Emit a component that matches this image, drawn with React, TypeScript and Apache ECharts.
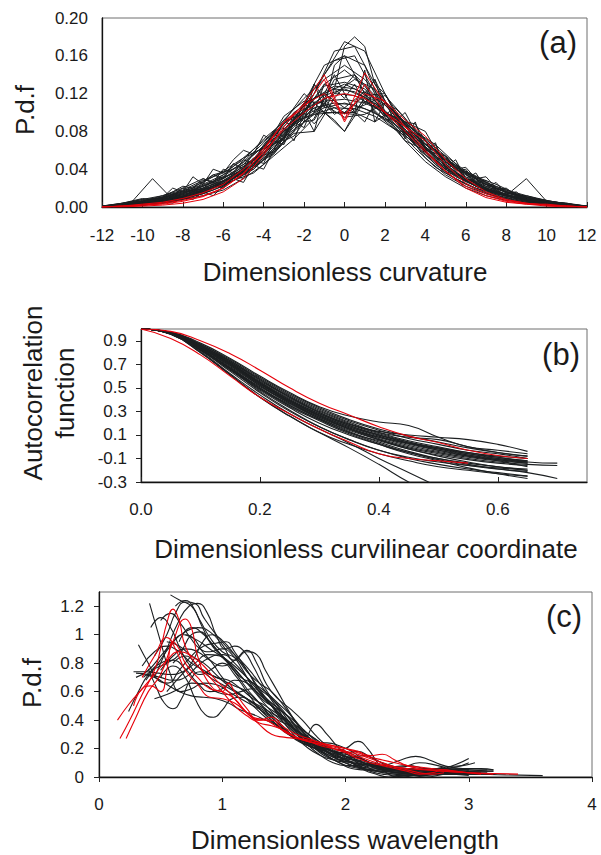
import React, { useEffect, useRef } from "react";
import * as echarts from "echarts";

// ---------- Panel (a): p.d.f of dimensionless curvature ----------
const xA = [-12, -11, -10, -9, -8, -7, -6, -5, -4, -3, -2, -1, 0, 1, 2, 3, 4, 5, 6, 7, 8, 9, 10, 11, 12];
const xAh = [-11.5, -10.5, -9.5, -8.5, -7.5, -6.5, -5.5, -4.5, -3.5, -2.5, -1.5, -0.5, 0.5, 1.5, 2.5, 3.5, 4.5, 5.5, 6.5, 7.5, 8.5, 9.5, 10.5, 11.5];
const xAf = [-12, -11, -10, -9, -8.5, -8, -7.5, -7, -6.5, -6, -5.5, -5, -4.5, -4, -3.5, -3, -2.5, -2, -1.5, -1, -0.5, 0, 0.5, 1, 1.5, 2, 2.5, 3, 3.5, 4, 4.5, 5, 5.5, 6, 6.5, 7, 7.5, 8, 8.5, 9, 10, 11, 12];
const blackA = [
  [0, .002, .004, .008, .013, .02, .028, .041, .06, .082, .102, .118, .125, .116, .1, .08, .058, .04, .027, .018, .012, .007, .004, .002, 0],
  [0, .001, .003, .006, .011, .017, .025, .037, .055, .078, .1, .13, .145, .128, .098, .076, .055, .036, .024, .016, .01, .006, .003, .001, 0],
  [.001, .003, .006, .009, .014, .022, .03, .045, .065, .085, .11, .12, .105, .122, .108, .085, .062, .044, .03, .02, .013, .008, .005, .003, .001],
  [0, .002, .005, .01, .016, .024, .034, .047, .064, .08, .094, .105, .11, .104, .094, .08, .066, .05, .035, .024, .016, .01, .006, .003, .001],
  [0, .001, .002, .005, .009, .014, .022, .034, .05, .074, .1, .14, .175, .165, .12, .08, .052, .034, .022, .014, .009, .005, .003, .001, 0],
  [0, .004, .009, .006, .01, .018, .026, .038, .056, .09, .12, .1, .1, .118, .12, .086, .056, .038, .028, .019, .012, .03, .006, .004, 0],
  [0, .001, .003, .007, .012, .018, .027, .04, .058, .08, .096, .108, .095, .098, .11, .09, .07, .05, .032, .02, .013, .008, .004, .002, 0],
  [0, .002, .004, .008, .014, .022, .032, .048, .068, .092, .115, .135, .15, .135, .11, .088, .064, .045, .03, .02, .012, .007, .004, .002, 0],
  [0, .001, .002, .004, .008, .012, .018, .03, .045, .068, .094, .12, .13, .12, .095, .07, .048, .032, .02, .012, .007, .004, .002, .001, 0],
  [.001, .003, .006, .01, .017, .026, .038, .052, .07, .088, .104, .112, .114, .11, .1, .088, .072, .054, .038, .026, .017, .01, .006, .003, .001],
  [0, .003, .008, .012, .018, .028, .036, .05, .072, .09, .1, .128, .132, .125, .1, .09, .07, .048, .036, .026, .018, .012, .007, .003, 0],
  [.001, .004, .006, .012, .02, .03, .022, .042, .06, .096, .112, .11, .1, .108, .118, .094, .062, .04, .03, .024, .015, .01, .005, .002, 0],
  [0, .002, .007, .01, .016, .02, .034, .052, .062, .072, .11, .15, .16, .15, .098, .07, .06, .054, .03, .02, .014, .012, .006, .004, .001],
  [0, .001, .004, .009, .015, .023, .032, .038, .064, .09, .108, .1, .08, .112, .1, .09, .08, .042, .03, .022, .013, .008, .005, .002, 0],
];
const blackAh = [
  [.001, .006, .03, .008, .014, .022, .032, .046, .066, .088, .108, .12, .118, .106, .088, .068, .048, .032, .022, .014, .009, .005, .003, .001],
  [.001, .003, .006, .01, .016, .024, .036, .05, .07, .094, .12, .165, .17, .13, .095, .07, .05, .034, .022, .014, .009, .005, .003, .001],
  [.002, .004, .006, .009, .013, .02, .028, .04, .06, .085, .105, .11, .108, .1, .085, .062, .042, .03, .02, .014, .01, .007, .004, .002],
  [0, .002, .004, .007, .012, .02, .03, .044, .06, .078, .08, .115, .14, .1, .082, .075, .058, .044, .03, .02, .012, .006, .003, .001],
  [.001, .002, .005, .009, .015, .022, .032, .042, .058, .08, .13, .1, .098, .135, .09, .068, .05, .034, .022, .015, .01, .006, .003, .001],
  [0, .001, .003, .006, .011, .018, .028, .042, .062, .09, .115, .128, .125, .112, .092, .066, .045, .03, .019, .011, .006, .003, .002, .001],
  [.002, .005, .008, .012, .018, .026, .036, .05, .066, .082, .098, .105, .104, .096, .082, .068, .054, .04, .028, .019, .013, .008, .005, .002],
  [0, .002, .004, .008, .013, .02, .03, .045, .067, .093, .125, .155, .16, .12, .1, .074, .052, .035, .023, .015, .009, .005, .003, .001],
  [.001, .003, .008, .014, .02, .034, .04, .05, .075, .1, .115, .125, .122, .11, .092, .07, .056, .04, .032, .024, .014, .008, .004, .002],
  [0, .002, .005, .01, .018, .02, .028, .036, .054, .072, .094, .135, .14, .118, .098, .08, .066, .046, .024, .016, .011, .006, .003, .001],
  [.001, .002, .004, .01, .012, .025, .03, .052, .058, .09, .098, .1, .1, .09, .105, .082, .06, .044, .026, .018, .008, .004, .002, .001],
  [0, .003, .006, .007, .016, .022, .034, .044, .064, .08, .1, .12, .135, .125, .1, .076, .058, .042, .033, .02, .012, .009, .005, .002],
];
const blackAf = [
  [0, .002, .004, .008, .014, .01, .018, .014, .024, .02, .034, .03, .05, .046, .07, .066, .09, .084, .11, .1, .125, .115, .13, .11, .12, .096, .1, .076, .082, .058, .066, .042, .05, .03, .036, .02, .026, .014, .016, .008, .004, .002, 0],
  [.001, .003, .006, .01, .016, .022, .02, .03, .026, .04, .036, .05, .046, .066, .078, .07, .1, .09, .13, .105, .15, .16, .14, .12, .135, .1, .092, .086, .07, .07, .052, .05, .038, .04, .026, .028, .018, .02, .012, .01, .005, .002, 0],
  [0, .001, .003, .006, .004, .01, .008, .016, .012, .022, .03, .026, .044, .04, .06, .084, .07, .1, .08, .12, .14, .12, .1, .145, .09, .11, .1, .072, .09, .06, .068, .04, .046, .028, .03, .018, .02, .01, .012, .006, .003, .001, 0],
  [0, .002, .005, .009, .012, .02, .016, .026, .034, .03, .046, .04, .058, .062, .08, .074, .094, .1, .088, .1, .092, .08, .1, .09, .11, .098, .09, .1, .08, .066, .06, .05, .044, .036, .03, .024, .02, .016, .012, .008, .005, .002, 0],
  [.001, .004, .008, .01, .02, .016, .032, .024, .04, .036, .05, .06, .056, .076, .07, .09, .086, .11, .1, .13, .125, .17, .18, .17, .13, .12, .1, .09, .088, .07, .06, .054, .04, .042, .03, .032, .02, .018, .014, .01, .005, .003, .001],
  [0, .001, .002, .004, .006, .008, .012, .014, .02, .024, .03, .036, .04, .05, .056, .07, .075, .09, .092, .11, .098, .105, .1, .115, .102, .092, .094, .08, .078, .064, .054, .046, .036, .03, .022, .018, .012, .01, .007, .005, .003, .001, 0],
];
const redA = [
  [0, 0, .001, .002, .004, .008, .016, .03, .055, .085, .11, .14, .092, .142, .11, .085, .06, .038, .02, .01, .005, .003, .003, .001, 0],
  [0, .001, .002, .004, .007, .012, .02, .035, .06, .09, .105, .135, .09, .13, .1, .085, .07, .045, .025, .014, .007, .004, .002, .001, 0],
  [0, .001, .002, .003, .006, .011, .02, .036, .058, .082, .1, .115, .12, .115, .1, .08, .058, .038, .022, .012, .006, .003, .001, 0, 0],
  [0, .001, .003, .005, .009, .015, .024, .04, .062, .09, .108, .12, .098, .12, .112, .092, .075, .05, .03, .016, .008, .004, .002, .001, 0],
];

// ---------- Panel (b): autocorrelation function ----------
const xB = [0, 0.05, 0.1, 0.15, 0.2, 0.25, 0.3, 0.35, 0.4, 0.45, 0.5, 0.55, 0.6, 0.65, 0.7];
const blackB = [
  [1, .975, .88, .75, .6, .46, .34, .26, .21, .18, .08, 0, -.03, -.06],
  [1, .97, .86, .72, .56, .42, .3, .2, .12, .08, .06, 0, -.05, -.08],
  [1, .97, .85, .7, .54, .4, .28, .18, .1, .03, -.02, -.06, -.09, -.12],
  [1, .965, .84, .69, .52, .38, .26, .16, .08, .01, -.04, -.08, -.11, -.13],
  [1, .96, .83, .67, .5, .36, .24, .14, .06, -.01, -.06, -.1, -.13, -.15, -.16],
  [1, .96, .82, .65, .48, .33, .2, .1, .02, -.05, -.1, -.14, -.17, -.2],
  [1, .96, .82, .64, .46, .3, .17, .06, -.03, -.1, -.15, -.19, -.22, -.25],
  [1, .955, .81, .62, .44, .28, .15, .03, -.1, -.22, -.34],
  [1, .955, .8, .61, .42, .26, .12, -.01, -.15, -.3, -.42],
  [1, .97, .86, .73, .58, .44, .32, .22, .14, .07, .02, -.03, -.06, -.1],
  [1, .965, .85, .71, .55, .41, .29, .19, .11, .04, -.02, -.07, -.11, -.14],
  [1, .96, .84, .68, .52, .37, .24, .13, .04, -.04, -.1, -.15, -.19, -.22, -.27],
  [1, .96, .83, .66, .49, .34, .22, .11, .02, -.06, -.12, -.18, -.23, -.27],
  [1, .97, .86, .72, .57, .43, .31, .21, .12, .05, 0, -.05, -.09, -.13],
  [1, .965, .85, .7, .53, .39, .27, .17, .09, .02, -.03, -.07, -.1, -.12],
  [1, .96, .83, .67, .51, .37, .25, .15, .07, 0, -.05, -.09, -.12, -.14],
  [1, .97, .87, .74, .59, .45, .33, .23, .15, .09, .04, -.01, -.05, -.08],
  [1, .96, .83, .66, .5, .35, .23, .12, .03, -.05, -.11, -.16, -.19, -.21],
  [1, .965, .84, .69, .53, .39, .26, .15, .06, -.02, -.07, -.11, -.14, -.16],
  [1, .97, .85, .71, .55, .4, .28, .18, .1, .03, -.03, -.08, -.12, -.17],
  [1, .97, .86, .71, .54, .38, .25, .15, .08, .03, -.01, -.05, -.08, -.1],
  [1, .965, .83, .66, .47, .31, .17, .06, -.03, -.09, -.13, -.16, -.18, -.2],
  [1, .975, .87, .73, .57, .42, .29, .19, .13, .1, .08, .06, .02, -.04],
  [1, .955, .8, .61, .42, .26, .12, .02, -.06, -.12, -.17, -.2, -.23, -.25],
  [1, .97, .85, .7, .54, .39, .27, .17, .1, .04, -.01, -.06, -.1, -.13, -.14],
  [1, .96, .83, .66, .49, .35, .23, .12, .05, -.02, -.08, -.13, -.17, -.19],
];
const redB = [
  [1, .98, .9, .79, .65, .5, .37, .27, .17, .09, .035, -.03, -.075, -.1],
  [1, .92, .78, .6, .42, .28, .15, .04, -.06, -.1, -.12, -.14],
];

// ---------- Panel (c): p.d.f of dimensionless wavelength ----------
const blackC = [
  [[0.45,0.85],[0.55,1.0],[0.62,1.15],[0.7,1.23],[0.78,1.22],[0.85,1.12],[0.95,1.0],[1.05,0.9],[1.15,0.82],[1.25,0.72],[1.35,0.6],[1.45,0.48],[1.55,0.36],[1.65,0.3],[1.75,0.24],[1.85,0.18],[1.95,0.12],[2.05,0.08],[2.15,0.06],[2.3,0.04],[2.5,0.03],[2.7,0.03],[2.9,0.02],[3.1,0.02]],
  [[0.58,1.28],[0.66,1.24],[0.75,1.2],[0.82,1.1],[0.9,0.98],[1.0,0.88],[1.1,0.84],[1.2,0.75],[1.3,0.6],[1.4,0.5],[1.5,0.42],[1.6,0.33],[1.7,0.25],[1.8,0.2],[1.9,0.16],[2.0,0.12],[2.1,0.1],[2.2,0.08],[2.35,0.07],[2.5,0.08],[2.65,0.06],[2.8,0.04],[3.0,0.04],[3.2,0.04]],
  [[0.41,1.22],[0.5,0.95],[0.58,0.72],[0.66,0.6],[0.75,0.62],[0.85,0.66],[0.95,0.65],[1.05,0.6],[1.15,0.55],[1.25,0.5],[1.35,0.45],[1.45,0.38],[1.55,0.3],[1.65,0.24],[1.75,0.2],[1.85,0.15],[1.95,0.1],[2.05,0.07],[2.2,0.05],[2.4,0.03],[2.6,0.02],[2.8,0.02],[3.0,0.01]],
  [[0.32,0.93],[0.4,0.8],[0.48,0.68],[0.56,0.66],[0.65,0.75],[0.75,0.85],[0.85,0.92],[0.95,0.94],[1.03,0.95],[1.1,0.88],[1.2,0.75],[1.3,0.62],[1.4,0.5],[1.5,0.38],[1.6,0.28],[1.7,0.2],[1.8,0.15],[1.9,0.12],[2.0,0.1],[2.1,0.07],[2.25,0.04],[2.4,0.02],[2.6,0.01],[2.8,0.02],[3.0,0.03]],
  [[0.28,0.74],[0.38,0.74],[0.48,0.73],[0.58,0.72],[0.68,0.74],[0.78,0.8],[0.88,0.86],[0.98,0.85],[1.08,0.78],[1.18,0.68],[1.28,0.6],[1.38,0.52],[1.48,0.42],[1.58,0.32],[1.68,0.25],[1.78,0.2],[1.88,0.17],[1.98,0.15],[2.08,0.12],[2.2,0.08],[2.35,0.05],[2.5,0.04],[2.7,0.03],[2.9,0.02],[3.1,0.02]],
  [[0.4,0.76],[0.47,0.62],[0.53,0.52],[0.6,0.48],[0.67,0.55],[0.74,0.68],[0.82,0.74],[0.9,0.72],[1.0,0.68],[1.1,0.64],[1.2,0.6],[1.3,0.52],[1.4,0.44],[1.5,0.35],[1.6,0.27],[1.7,0.22],[1.8,0.2],[1.9,0.18],[2.0,0.15],[2.1,0.1],[2.2,0.06],[2.3,0.03],[2.45,0.02],[2.6,0.02],[2.8,0.04],[2.95,0.06]],
  [[0.5,0.7],[0.6,0.78],[0.7,0.7],[0.78,0.55],[0.86,0.44],[0.93,0.42],[1.0,0.47],[1.08,0.55],[1.16,0.56],[1.25,0.5],[1.35,0.42],[1.45,0.36],[1.55,0.3],[1.65,0.26],[1.76,0.37],[1.85,0.3],[1.95,0.2],[2.05,0.14],[2.15,0.1],[2.25,0.06],[2.35,0.04],[2.5,0.03],[2.65,0.05],[2.8,0.06],[3.0,0.05]],
  [[0.3,0.7],[0.4,0.75],[0.5,0.85],[0.6,0.95],[0.7,1.02],[0.8,1.05],[0.9,1.02],[1.0,0.93],[1.1,0.82],[1.2,0.88],[1.28,0.86],[1.35,0.75],[1.45,0.6],[1.55,0.45],[1.65,0.32],[1.75,0.22],[1.85,0.15],[1.95,0.1],[2.05,0.06],[2.15,0.05],[2.3,0.04],[2.45,0.06],[2.6,0.05],[2.8,0.03],[3.0,0.03],[3.15,0.03]],
  [[0.45,0.7],[0.55,0.9],[0.65,1.1],[0.73,1.2],[0.8,1.22],[0.88,1.15],[0.95,1.0],[1.03,0.9],[1.1,0.92],[1.18,0.88],[1.25,0.78],[1.35,0.62],[1.45,0.5],[1.55,0.38],[1.65,0.27],[1.75,0.2],[1.85,0.14],[1.95,0.12],[2.05,0.14],[2.15,0.12],[2.25,0.08],[2.4,0.05],[2.55,0.03],[2.7,0.04],[2.85,0.05],[3.0,0.05]],
  [[0.35,0.72],[0.45,0.7],[0.55,0.65],[0.65,0.6],[0.75,0.57],[0.85,0.56],[0.95,0.55],[1.05,0.52],[1.15,0.47],[1.25,0.44],[1.35,0.4],[1.45,0.36],[1.55,0.3],[1.65,0.25],[1.75,0.22],[1.85,0.2],[1.95,0.16],[2.05,0.1],[2.15,0.05],[2.25,0.02],[2.35,0.0],[2.5,0.01],[2.65,0.03],[2.8,0.04],[2.95,0.04]],
  [[0.38,0.68],[0.48,0.8],[0.58,0.92],[0.68,1.0],[0.76,0.98],[0.84,0.88],[0.92,0.8],[1.0,0.7],[1.1,0.6],[1.2,0.55],[1.3,0.48],[1.4,0.4],[1.5,0.32],[1.6,0.27],[1.7,0.24],[1.8,0.21],[1.9,0.18],[2.0,0.17],[2.1,0.18],[2.2,0.14],[2.3,0.1],[2.45,0.07],[2.6,0.1],[2.75,0.08],[2.9,0.05],[3.05,0.06]],
  [[0.5,0.75],[0.6,0.85],[0.7,0.9],[0.8,0.88],[0.9,0.82],[1.0,0.78],[1.1,0.82],[1.2,0.89],[1.28,0.8],[1.36,0.65],[1.45,0.55],[1.55,0.48],[1.65,0.4],[1.75,0.3],[1.85,0.22],[1.95,0.17],[2.05,0.15],[2.15,0.12],[2.25,0.08],[2.35,0.05],[2.5,0.04],[2.65,0.06],[2.8,0.05],[3.0,0.04],[3.2,0.04]],
  [[0.6,0.8],[0.7,0.85],[0.8,0.78],[0.9,0.7],[1.0,0.65],[1.1,0.6],[1.2,0.55],[1.3,0.5],[1.4,0.45],[1.5,0.4],[1.6,0.33],[1.7,0.26],[1.8,0.2],[1.9,0.15],[2.0,0.12],[2.1,0.09],[2.2,0.07],[2.3,0.05],[2.45,0.04],[2.6,0.04],[2.75,0.05],[2.9,0.09],[3.0,0.13]],
  [[0.55,0.95],[0.65,0.92],[0.75,0.85],[0.85,0.8],[0.95,0.72],[1.05,0.64],[1.15,0.58],[1.25,0.52],[1.35,0.46],[1.45,0.4],[1.55,0.36],[1.65,0.3],[1.75,0.24],[1.85,0.18],[1.95,0.14],[2.05,0.12],[2.15,0.1],[2.25,0.08],[2.35,0.09],[2.45,0.12],[2.57,0.145],[2.68,0.12],[2.8,0.08],[2.95,0.06],[3.1,0.06],[3.2,0.05]],
  [[0.42,1.05],[0.5,1.12],[0.58,1.05],[0.66,0.9],[0.74,0.78],[0.82,0.72],[0.9,0.75],[1.0,0.8],[1.1,0.72],[1.2,0.6],[1.3,0.48],[1.4,0.4],[1.5,0.33],[1.6,0.26],[1.7,0.22],[1.8,0.19],[1.9,0.18],[2.0,0.2],[2.1,0.25],[2.18,0.2],[2.26,0.1],[2.35,0.02],[2.45,0.0],[2.6,0.02],[2.75,0.05],[2.9,0.07],[3.0,0.1]],
  [[0.7,1.0],[0.8,0.96],[0.9,0.9],[1.0,0.84],[1.1,0.74],[1.2,0.62],[1.3,0.52],[1.4,0.42],[1.5,0.34],[1.6,0.28],[1.7,0.23],[1.8,0.18],[1.9,0.14],[2.0,0.11],[2.1,0.09],[2.2,0.08],[2.35,0.06],[2.5,0.05],[2.7,0.04],[2.9,0.03],[3.1,0.02],[3.3,0.015],[3.6,0.01]],
  [[0.24,0.46],[0.32,0.6],[0.4,0.72],[0.5,0.8],[0.6,0.82],[0.7,0.76],[0.8,0.66],[0.9,0.6],[1.0,0.62],[1.1,0.68],[1.2,0.66],[1.3,0.58],[1.4,0.5],[1.5,0.42],[1.6,0.36],[1.7,0.3],[1.8,0.24],[1.9,0.18],[2.0,0.12],[2.1,0.08],[2.2,0.06],[2.35,0.05],[2.5,0.06],[2.65,0.04],[2.8,0.03],[3.0,0.02]],
  [[0.36,0.7],[0.45,0.76],[0.55,0.8],[0.65,0.86],[0.75,1.0],[0.82,1.02],[0.9,0.95],[1.0,0.85],[1.1,0.76],[1.2,0.66],[1.3,0.56],[1.4,0.46],[1.5,0.38],[1.6,0.3],[1.7,0.22],[1.8,0.15],[1.9,0.1],[2.0,0.08],[2.1,0.08],[2.2,0.1],[2.3,0.08],[2.45,0.05],[2.6,0.03],[2.8,0.02],[3.0,0.02],[3.2,0.02]],
  [[0.3,0.73],[0.4,0.72],[0.5,0.7],[0.6,0.68],[0.7,0.7],[0.8,0.78],[0.9,0.84],[1.0,0.86],[1.1,0.8],[1.2,0.7],[1.3,0.6],[1.4,0.52],[1.5,0.45],[1.6,0.36],[1.7,0.28],[1.8,0.22],[1.9,0.18],[2.0,0.14],[2.1,0.11],[2.2,0.09],[2.35,0.07],[2.5,0.06],[2.7,0.05],[2.9,0.04],[3.1,0.03]],
  [[0.55,0.6],[0.65,0.7],[0.75,0.8],[0.85,0.96],[0.92,1.0],[1.0,0.96],[1.1,0.86],[1.2,0.74],[1.3,0.66],[1.4,0.6],[1.5,0.5],[1.6,0.38],[1.7,0.28],[1.8,0.22],[1.9,0.2],[2.0,0.18],[2.1,0.14],[2.2,0.1],[2.3,0.06],[2.4,0.03],[2.5,0.02],[2.65,0.04],[2.8,0.07],[2.95,0.08],[3.05,0.1]],
  [[0.45,0.55],[0.55,0.58],[0.65,0.62],[0.75,0.66],[0.85,0.65],[0.95,0.6],[1.05,0.58],[1.15,0.6],[1.25,0.62],[1.35,0.56],[1.45,0.46],[1.55,0.36],[1.65,0.28],[1.75,0.24],[1.85,0.24],[1.95,0.22],[2.05,0.18],[2.15,0.12],[2.25,0.07],[2.35,0.04],[2.5,0.03],[2.65,0.02],[2.8,0.03],[3.0,0.04],[3.15,0.05]],
  [[0.5,1.1],[0.58,1.15],[0.66,1.08],[0.74,0.98],[0.82,0.9],[0.9,0.88],[1.0,0.9],[1.08,0.86],[1.16,0.76],[1.24,0.64],[1.32,0.55],[1.4,0.5],[1.5,0.45],[1.6,0.38],[1.7,0.3],[1.8,0.24],[1.9,0.17],[2.0,0.12],[2.1,0.08],[2.2,0.04],[2.3,0.02],[2.45,0.01],[2.6,0.02],[2.8,0.03],[3.0,0.03]],
  [[0.62,1.2],[0.7,1.24],[0.76,1.2],[0.84,1.05],[0.92,0.92],[1.0,0.85],[1.1,0.78],[1.2,0.7],[1.3,0.62],[1.4,0.55],[1.5,0.46],[1.6,0.35],[1.7,0.26],[1.8,0.2],[1.9,0.15],[2.0,0.13],[2.1,0.12],[2.2,0.1],[2.3,0.07],[2.45,0.05],[2.6,0.05],[2.75,0.06],[2.9,0.05],[3.1,0.05],[3.2,0.05]],
  [[0.35,0.78],[0.45,0.88],[0.55,0.92],[0.65,0.88],[0.75,0.8],[0.85,0.75],[0.95,0.7],[1.05,0.68],[1.15,0.62],[1.25,0.55],[1.35,0.5],[1.45,0.44],[1.55,0.38],[1.65,0.3],[1.75,0.22],[1.85,0.16],[1.95,0.12],[2.05,0.1],[2.15,0.09],[2.3,0.06],[2.45,0.04],[2.6,0.03],[2.8,0.03],[3.0,0.02]],
  [[0.65,0.95],[0.75,1.05],[0.85,1.0],[0.95,0.9],[1.05,0.8],[1.15,0.7],[1.25,0.66],[1.35,0.6],[1.45,0.52],[1.55,0.44],[1.65,0.34],[1.75,0.26],[1.85,0.2],[1.95,0.16],[2.05,0.14],[2.15,0.15],[2.25,0.12],[2.35,0.07],[2.45,0.04],[2.55,0.01],[2.65,0.0],[2.8,0.02],[3.0,0.04]],
];
const redC = [
  [[0.15,0.4],[0.25,0.52],[0.35,0.62],[0.45,0.72],[0.55,0.82],[0.65,0.88],[0.75,0.85],[0.85,0.78],[0.95,0.68],[1.05,0.6],[1.15,0.5],[1.25,0.42],[1.35,0.4],[1.45,0.35],[1.55,0.3],[1.65,0.26],[1.75,0.24],[1.85,0.22],[1.95,0.2],[2.05,0.16],[2.15,0.13],[2.25,0.1],[2.35,0.08],[2.5,0.06],[2.65,0.05],[2.8,0.04],[3.0,0.03],[3.2,0.025],[3.4,0.02]],
  [[0.17,0.27],[0.25,0.4],[0.35,0.58],[0.45,0.75],[0.5,0.9],[0.55,1.08],[0.6,1.18],[0.65,1.1],[0.7,0.92],[0.8,0.78],[0.9,0.7],[1.0,0.6],[1.1,0.5],[1.2,0.43],[1.3,0.38],[1.4,0.36],[1.5,0.33],[1.6,0.28],[1.7,0.26],[1.8,0.24],[1.9,0.2],[2.0,0.17],[2.1,0.13],[2.2,0.1],[2.3,0.08],[2.4,0.06],[2.5,0.04],[2.6,0.02],[2.7,0.03],[2.8,0.05],[2.9,0.04],[3.0,0.03],[3.1,0.02]],
  [[0.22,0.27],[0.3,0.42],[0.4,0.6],[0.5,0.72],[0.6,0.95],[0.7,1.11],[0.75,1.05],[0.8,0.85],[0.9,0.65],[1.0,0.6],[1.05,0.66],[1.1,0.6],[1.2,0.48],[1.3,0.4],[1.4,0.42],[1.5,0.35],[1.6,0.3],[1.7,0.27],[1.8,0.24],[1.9,0.22],[2.0,0.2],[2.1,0.18],[2.2,0.15],[2.3,0.16],[2.4,0.12],[2.5,0.08],[2.6,0.06],[2.7,0.05],[2.8,0.04],[3.0,0.03],[3.2,0.02]],
  [[0.35,0.7],[0.45,0.85],[0.55,0.98],[0.62,0.9],[0.7,0.75],[0.8,0.65],[0.9,0.56],[1.0,0.55],[1.1,0.52],[1.2,0.45],[1.3,0.37],[1.4,0.3],[1.5,0.28],[1.6,0.27],[1.7,0.25],[1.8,0.22],[1.9,0.2],[2.0,0.18],[2.1,0.16],[2.2,0.13],[2.3,0.1],[2.4,0.07],[2.5,0.05],[2.6,0.03],[2.7,0.02],[2.8,0.03]],
  [[0.28,0.5],[0.35,0.62],[0.42,0.64],[0.5,0.6],[0.55,0.75],[0.6,0.95],[0.65,0.9],[0.7,0.8],[0.8,0.7],[0.9,0.62],[1.0,0.6],[1.1,0.55],[1.2,0.45],[1.3,0.4],[1.4,0.4],[1.5,0.32],[1.6,0.28],[1.7,0.25],[1.8,0.23],[1.9,0.22],[2.0,0.2],[2.1,0.17],[2.2,0.14],[2.3,0.12],[2.4,0.1],[2.5,0.08],[2.6,0.07],[2.7,0.06],[2.8,0.05],[2.9,0.04],[3.0,0.03]],
];

// ---------- tick values ----------
const ticksAx = [-12, -10, -8, -6, -4, -2, 0, 2, 4, 6, 8, 10, 12];
const ticksAy = [0, 0.04, 0.08, 0.12, 0.16, 0.2];
const ticksBx = [0, 0.2, 0.4, 0.6];
const ticksBy = [-0.3, -0.1, 0.1, 0.3, 0.5, 0.7, 0.9];
const ticksCx = [0, 1, 2, 3, 4];
const ticksCy = [0, 0.2, 0.4, 0.6, 0.8, 1, 1.2];

const FONT = '"Liberation Sans", Arial, Helvetica, sans-serif';
const BLACK = "#1c1f21";
const RED = "#e6000a";
const TXT = "#1a1a1a";

function zipX(xs: number[], ys: number[]) {
  return ys.map((y, i) => [xs[i], y]);
}

function lineSeries(data: number[][], idx: number, color: string, smooth: boolean | number, z: number, width: number) {
  return {
    type: "line",
    xAxisIndex: idx,
    yAxisIndex: idx,
    data,
    smooth,
    symbol: "none",
    showSymbol: false,
    silent: true,
    z,
    lineStyle: { color, width },
  };
}

function xAx(idx: number, min: number, max: number, ticks: number[], inside: boolean, fmt: (v: number) => string, margin: number) {
  return {
    type: "value",
    gridIndex: idx,
    min,
    max,
    axisLine: { show: true, onZero: false, lineStyle: { color: "#111", width: 1.3 } },
    axisTick: { show: true, inside, length: 5, customValues: ticks, lineStyle: { color: "#222", width: 1 } },
    axisLabel: { customValues: ticks, formatter: fmt, margin, fontSize: 17, color: TXT, fontFamily: FONT },
    splitLine: { show: false },
  };
}

function yAx(idx: number, min: number, max: number, ticks: number[], showTick: boolean, fmt: (v: number) => string, margin: number) {
  return {
    type: "value",
    gridIndex: idx,
    min,
    max,
    axisLine: { show: true, onZero: false, lineStyle: { color: "#111", width: 1.3 } },
    axisTick: { show: showTick, inside: false, length: 5, customValues: ticks, lineStyle: { color: "#222", width: 1 } },
    axisLabel: { customValues: ticks, formatter: fmt, margin, fontSize: 17, color: TXT, fontFamily: FONT },
    splitLine: { show: false },
  };
}

function txt(text: string, x: number, y: number, size: number, rotation = 0, lineHeight?: number) {
  return {
    type: "text",
    x,
    y,
    rotation,
    silent: true,
    style: {
      text,
      fontSize: size,
      fontFamily: FONT,
      fill: TXT,
      align: "center",
      verticalAlign: "middle",
      lineHeight: lineHeight || size * 1.2,
    },
  };
}

export default function App() {
  const ref = useRef<HTMLDivElement>(null);
  useEffect(() => {
    if (!ref.current) return;
    const chart = echarts.init(ref.current, undefined, { renderer: "svg" });
    const series: any[] = [];
    blackA.forEach((ys) => series.push(lineSeries(zipX(xA, ys), 0, BLACK, false, 2, 1)));
    blackAh.forEach((ys) => series.push(lineSeries(zipX(xAh, ys), 0, BLACK, false, 2, 1)));
    blackAf.forEach((ys) => series.push(lineSeries(zipX(xAf, ys), 0, BLACK, false, 2, 1)));
    redA.forEach((ys) => series.push(lineSeries(zipX(xA, ys), 0, RED, false, 3, 1)));
    blackB.forEach((ys) => series.push(lineSeries(zipX(xB, ys), 1, BLACK, true, 2, 1.1)));
    redB.forEach((ys) => series.push(lineSeries(zipX(xB, ys), 1, RED, true, 3, 1.1)));
    blackC.forEach((d) => series.push(lineSeries(d, 2, BLACK, 0.5, 2, 1.1)));
    redC.forEach((d) => series.push(lineSeries(d, 2, RED, 0.5, 3, 1.1)));

    const border = { show: true, borderColor: "#6e6e6e", borderWidth: 1 };
    chart.setOption({
      animation: false,
      backgroundColor: "#ffffff",
      grid: [
        { left: 102, top: 18, width: 485, height: 189, ...border },
        { left: 141, top: 329, width: 446, height: 153, ...border },
        { left: 99, top: 592, width: 493, height: 185, ...border },
      ],
      xAxis: [
        xAx(0, -12, 12, ticksAx, true, (v) => String(v), 20),
        xAx(1, 0, 0.75, ticksBx, true, (v) => v.toFixed(1), 19),
        xAx(2, 0, 4, ticksCx, false, (v) => String(v), 19),
      ],
      yAxis: [
        yAx(0, 0, 0.2, ticksAy, false, (v) => v.toFixed(2), 14),
        yAx(1, -0.3, 1.0, ticksBy, true, (v) => v.toFixed(1), 14),
        yAx(2, 0, 1.3, ticksCy, true, (v) => String(+v.toFixed(1)), 15),
      ],
      series,
      graphic: [
        txt("(a)", 558, 42, 31),
        txt("(b)", 561, 354, 31),
        txt("(c)", 564, 616, 31),
        txt("Dimensionless curvature", 345, 272, 26),
        txt("Dimensionless curvilinear coordinate", 366, 549, 26),
        txt("Dimensionless wavelength", 345, 840, 26),
        txt("P.d.f", 25, 110, 26, Math.PI / 2),
        txt("Autocorrelation\nfunction", 49, 393, 26, Math.PI / 2, 32),
        txt("P.d.f", 32, 683, 26, Math.PI / 2),
      ],
    });
    return () => chart.dispose();
  }, []);
  return (
    <div
      ref={ref}
      style={{ position: "fixed", left: 0, top: 0, width: 601, height: 855, background: "#fff" }}
    />
  );
}
